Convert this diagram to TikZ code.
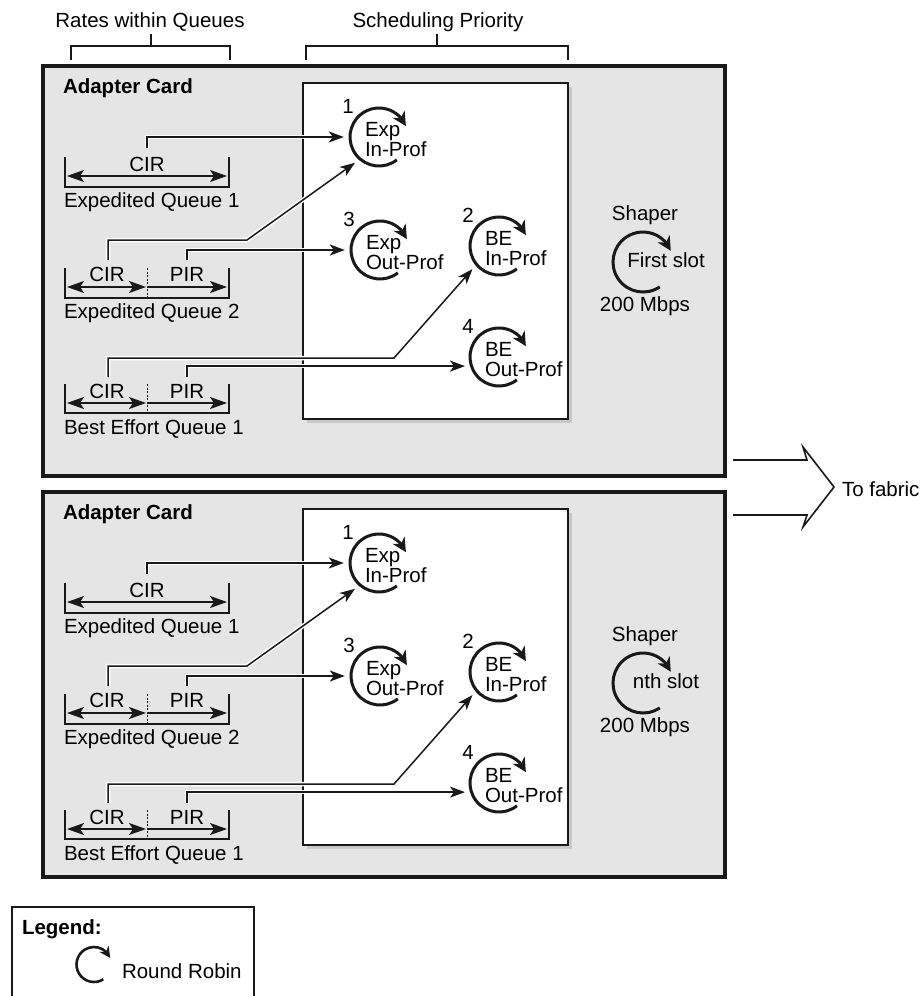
\documentclass[tikz,border=0pt]{standalone}
\usepackage{fontspec}
\setmainfont{Liberation Sans}
\usetikzlibrary{arrows.meta,bending}
\definecolor{cardfill}{RGB}{229,229,229}
\definecolor{edgec}{RGB}{25,25,25}
\definecolor{shadowc}{RGB}{200,200,200}
\tikzset{
  lbl/.style={font=\fontsize{20.5}{21}\selectfont, inner sep=0pt, outer sep=0pt},
  boldlbl/.style={font=\fontsize{20.5}{22}\selectfont\bfseries, inner sep=0pt, outer sep=0pt},
  cardbox/.style={draw=edgec, line width=3.2pt, fill=cardfill},
  schedbox/.style={draw=edgec, line width=2.5pt, fill=white},
  shadowbox/.style={fill=shadowc},
  bracketline/.style={draw=edgec, line width=2.4pt, line join=miter},
  divider/.style={draw=edgec, line width=1pt, dash pattern=on 2pt off 1.5pt},
  ratearrow/.style={draw=edgec, line width=1.8pt, {Stealth[length=17pt,width=12pt,inset=4pt]}-{Stealth[length=17pt,width=12pt,inset=4pt]}},
  ratearrowone/.style={draw=edgec, line width=1.8pt, -{Stealth[length=17pt,width=12pt,inset=4pt]}},
  conn/.style={draw=edgec, line width=1.5pt, -{Stealth[length=15pt,width=11pt,inset=4pt]}, preaction={draw=white, line width=4.5pt, -}},
  rrarc/.style={draw=edgec, line width=3pt, -{Stealth[length=14pt,width=14pt,inset=4.5pt]}},
  legarc/.style={draw=edgec, line width=2.6pt, -{Stealth[length=11pt,width=11pt,inset=3.5pt]}},
  rrnode/.style={circle, minimum size=70pt, inner sep=0pt},
  topbracket/.style={draw=edgec, line width=1.3pt},
  fabric/.style={draw=edgec, line width=1.6pt, line join=miter},
  legendbox/.style={draw=edgec, line width=1.4pt},
}
% round robin circle: name, x, y, number, line1, line2
\newcommand\rrcircle[6]{%
  \node[rrnode] (#1) at (#2,#3) {};
  \draw[rrarc] (#1.center) ++(52:29) arc[start angle=52, end angle=338, radius=29];
  \node[lbl, anchor=base] (#1n) at (#2-31,#3-23.5) {#4};
  \node[lbl, anchor=base west] (#1a) at (#2-14,#3-1) {#5};
  \node[lbl, anchor=base west] (#1b) at (#2-14,#3+19.5) {#6};
}
% shaper: prefix, slot text, vertical shift
\newcommand\shaperblock[3]{%
  \begin{scope}[shift={(0,#3)}]
  \node[lbl, anchor=base] (#1shl) at (645,220.5) {Shaper};
  \node[circle, minimum size=60pt, inner sep=0pt] (#1shc) at (643,262) {};
  \draw[rrarc] (#1shc.center) ++(56:30) arc[start angle=56, end angle=338, radius=30];
  \node[lbl, anchor=base] (#1sht) at (666,267.5) {#2};
  \node[lbl, anchor=base] (#1shr) at (645,311) {200 Mbps};
  \end{scope}
}
% adapter card: prefix, slot text, card bottom, shaper shift
\newcommand\cardbody[4]{%
  \draw[cardbox] (43,66) rectangle (725,#3);
  \node[boldlbl, anchor=base west] (#1title) at (63,93) {Adapter Card};
  \fill[shadowbox] (307,87) rectangle (572,423);
  \draw[schedbox] (303,83) rectangle (568,419);
  % Expedited Queue 1
  \draw[bracketline] (65,157) -- (65,187) -- (229,187) -- (229,157);
  \draw[ratearrow] (67,176) -- (227,176);
  \node[lbl, anchor=base] (#1qa) at (147,171.5) {CIR};
  \node[lbl, anchor=base west] (#1qal) at (64,207.5) {Expedited Queue 1};
  % Expedited Queue 2
  \draw[bracketline] (65,268) -- (65,298) -- (229,298) -- (229,268);
  \draw[divider] (147,268) -- (147,298);
  \draw[ratearrow] (67,287) -- (146,287);
  \draw[ratearrowone] (148,287) -- (227,287);
  \node[lbl, anchor=base] (#1qbc) at (107,281) {CIR};
  \node[lbl, anchor=base] (#1qbp) at (187,281) {PIR};
  \node[lbl, anchor=base west] (#1qbl) at (64,318) {Expedited Queue 2};
  % Best Effort Queue 1
  \draw[bracketline] (65,384) -- (65,413) -- (229,413) -- (229,384);
  \draw[divider] (147,384) -- (147,413);
  \draw[ratearrow] (67,403) -- (146,403);
  \draw[ratearrowone] (148,403) -- (227,403);
  \node[lbl, anchor=base] (#1qcc) at (107,398) {CIR};
  \node[lbl, anchor=base] (#1qcp) at (187,398) {PIR};
  \node[lbl, anchor=base west] (#1qcl) at (64,434) {Best Effort Queue 1};
  % scheduling circles
  \rrcircle{#1c1}{379}{137}{1}{Exp}{In-Prof}
  \rrcircle{#1c3}{380}{250}{3}{Exp}{Out-Prof}
  \rrcircle{#1c2}{499}{246}{2}{BE}{In-Prof}
  \rrcircle{#1c4}{499}{357}{4}{BE}{Out-Prof}
  \shaperblock{#1}{#2}{#4}
  % connectors
  \coordinate (#1ka) at (147,148);
  \coordinate (#1kb) at (108,260);
  \coordinate (#1kc) at (187,260);
  \coordinate (#1kd) at (108,377);
  \coordinate (#1ke) at (187,377);
  \coordinate (#1bb) at (247,240);
  \coordinate (#1bd) at (394,358);
  \draw[conn] (#1ka) |- (#1c1);
  \draw[conn] (#1kb) |- (#1bb) -- (#1c1.227);
  \draw[conn] (#1kc) |- (#1c3);
  \draw[conn] (#1kd) |- (#1bd) -- (#1c2.221);
  \draw[conn] (#1ke) |- (#1c4.195);
}
\begin{document}
\begin{tikzpicture}[x=1pt,y=-1pt]
\useasboundingbox (0,0) rectangle (921,996);
% top headings
\node[lbl, anchor=base] (ratesl) at (150,27.5) {Rates within Queues};
\draw[topbracket] (71,60) -- (71,46) -- (230,46) -- (230,60);
\draw[topbracket] (151,46) -- (151,34);
\node[lbl, anchor=base] (schedl) at (438,27.5) {Scheduling Priority};
\draw[topbracket] (306,60) -- (306,46) -- (568,46) -- (568,60);
\draw[topbracket] (437,46) -- (437,34);
% cards
\cardbody{A}{First slot}{476}{0}
\begin{scope}[shift={(0,426)}]
\cardbody{B}{nth slot}{451}{-5}
\end{scope}
% to fabric
\draw[fabric] (733,460) -- (807,460) -- (803,447) -- (834,487) -- (803,527) -- (807,515) -- (733,515);
\node[lbl, anchor=base west] (fab) at (842,496) {To fabric};
% legend
\draw[legendbox] (12,1000) -- (12,907) -- (254,907) -- (254,1000);
\node[boldlbl, anchor=base west] (legt) at (22,934) {Legend:};
\node[circle, minimum size=35pt, inner sep=0pt] (legc) at (94,964.5) {};
\draw[legarc] (legc.center) ++(58:17.5) arc[start angle=58, end angle=338, radius=17.5];
\node[lbl, anchor=base west] (legr) at (122,978) {Round Robin};
\end{tikzpicture}
\end{document}
